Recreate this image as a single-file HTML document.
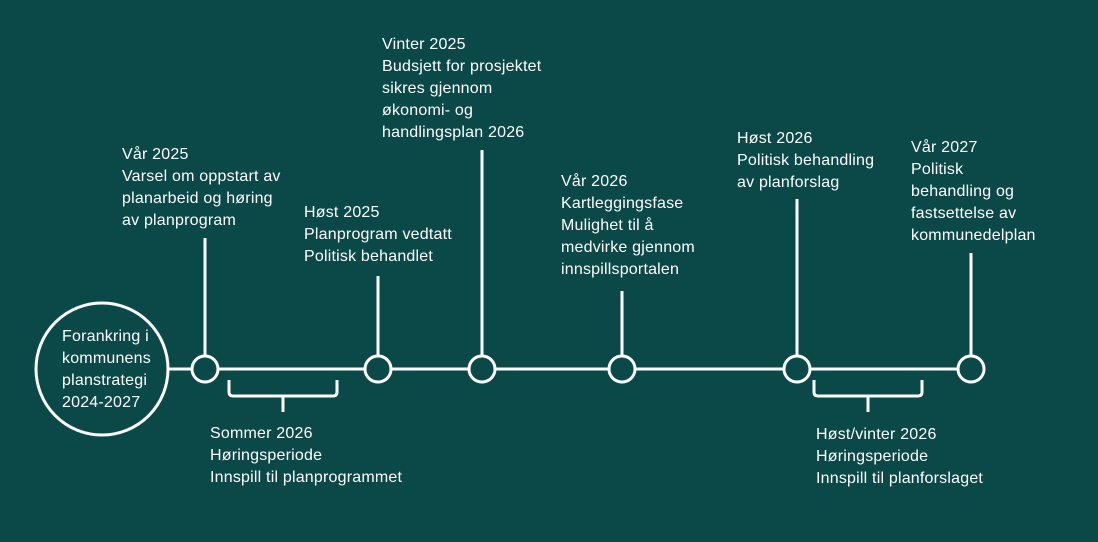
<!DOCTYPE html>
<html><head><meta charset="utf-8"><style>
body{margin:0;width:1098px;height:542px;background:#0b4848;overflow:hidden;position:relative;font-family:"Liberation Sans",sans-serif;color:#fff}
.t{position:absolute;font-size:16px;line-height:22px;white-space:nowrap;letter-spacing:0.2px}
svg{position:absolute;left:0;top:0}
</style></head><body>
<svg width="1098" height="542">
<g stroke="#fff" stroke-width="3" fill="none" stroke-linejoin="round">
<line x1="168" y1="369" x2="958" y2="369"/>
<circle cx="102" cy="369" r="66" fill="#0b4848"/>
<line x1="205" y1="238" x2="205" y2="356"/>
<line x1="378" y1="276" x2="378" y2="356"/>
<line x1="482" y1="150" x2="482" y2="356"/>
<line x1="622" y1="291" x2="622" y2="356"/>
<line x1="797" y1="199" x2="797" y2="356"/>
<line x1="971" y1="253" x2="971" y2="356"/>
<circle cx="205" cy="369" r="13" fill="#0b4848"/>
<circle cx="378" cy="369" r="13" fill="#0b4848"/>
<circle cx="482" cy="369" r="13" fill="#0b4848"/>
<circle cx="622" cy="369" r="13" fill="#0b4848"/>
<circle cx="797" cy="369" r="13" fill="#0b4848"/>
<circle cx="971" cy="369" r="13" fill="#0b4848"/>
<path d="M229 380 V392 Q229 396 233 396 H333 Q337 396 337 392 V380 M283 396 V412"/>
<path d="M814 380 V392 Q814 396 818 396 H918 Q922 396 922 392 V380 M868 396 V412"/>
</g></svg>
<div class="t" style="left:62px;top:326px">Forankring i<br>kommunens<br>planstrategi<br>2024-2027</div>
<div class="t" style="left:122px;top:144px">Vår 2025<br>Varsel om oppstart av<br>planarbeid og høring<br>av planprogram</div>
<div class="t" style="left:304px;top:202px">Høst 2025<br>Planprogram vedtatt<br>Politisk behandlet</div>
<div class="t" style="left:382px;top:34px">Vinter 2025<br>Budsjett for prosjektet<br>sikres gjennom<br>økonomi- og<br>handlingsplan 2026</div>
<div class="t" style="left:561px;top:171px">Vår 2026<br>Kartleggingsfase<br>Mulighet til å<br>medvirke gjennom<br>innspillsportalen</div>
<div class="t" style="left:737px;top:128px">Høst 2026<br>Politisk behandling<br>av planforslag</div>
<div class="t" style="left:911px;top:137px">Vår 2027<br>Politisk<br>behandling og<br>fastsettelse av<br>kommunedelplan</div>
<div class="t" style="left:210px;top:423px">Sommer 2026<br>Høringsperiode<br>Innspill til planprogrammet</div>
<div class="t" style="left:816px;top:424px">Høst/vinter 2026<br>Høringsperiode<br>Innspill til planforslaget</div>
</body></html>
